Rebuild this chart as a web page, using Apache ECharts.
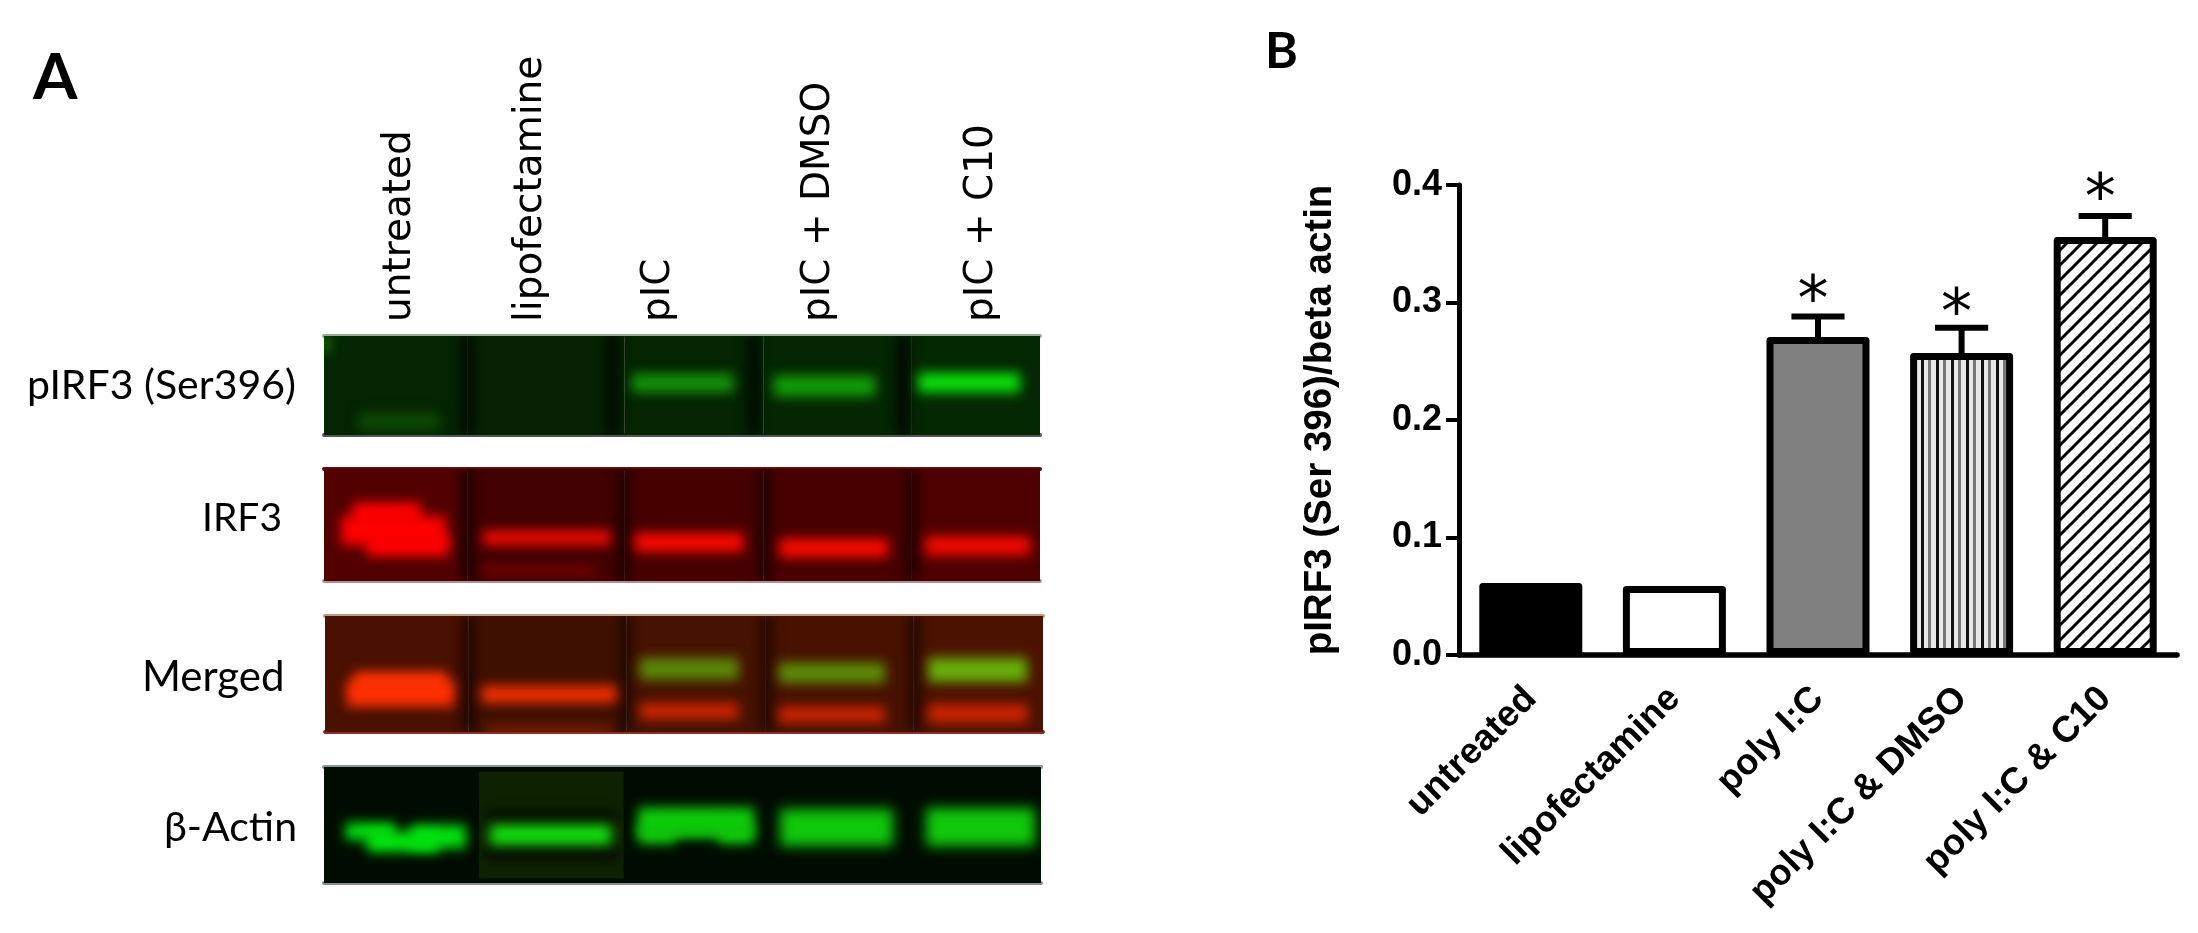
<!DOCTYPE html>
<html>
<head>
<meta charset="utf-8">
<script src="https://cdn.jsdelivr.net/npm/echarts@6/dist/echarts.min.js"></script>
<style>
html,body{margin:0;padding:0;background:#fff}
#main{width:2198px;height:933px;filter:blur(0.6px)}
</style>
</head>
<body>
<div id="main"></div>
<script>
// ---- Panel B data ----
const categories = ['untreated','lipofectamine','poly I:C','poly I:C & DMSO','poly I:C & C10'];
const meanValues = [0.0613,0.0587,0.2706,0.257,0.3557];
const errorTops  = [null,null,0.288,0.2786,0.3736];
const starValues = [null,null,0.3123,0.3013,0.3991];
const yTicks = {min:0,max:0.4,interval:0.1};
const yTitle = 'pIRF3 (Ser 396)/beta actin';

// ---- Panel A data: lanes are in lane units 0-5, migration in percent of strip height ----
// lane background: [laneStart, laneEnd, migrationStart, migrationEnd, redSignal, greenSignal]
const pIRF3Lanes = [[0,1,0,100,4,36],[1,2.1,0,100,6,34],[2.1,3.07,0,100,4,36],[3.07,4.1,0,100,4,38],[4.1,5,0,100,4,40]];
const irf3Lanes = [[0,1,0,100,82,0],[1,2.1,0,100,66,0],[2.1,3.07,0,100,70,0],[3.07,4.1,0,100,72,0],[4.1,5,0,100,78,0]];
const mergedLanes = [[0,1,0,100,74,16],[1,2.1,0,100,62,16],[2.1,3.07,0,100,70,18],[3.07,4.1,0,100,72,18],[4.1,5,0,100,76,18]];
const actinLanes = [[0,5,0,100,0,12],[1.08,2.09,4,96,14,34]];
// signal bands: [laneStart, laneEnd, migrationStart, migrationEnd, redSignal, greenSignal]
const pIRF3Bands = [
  [0,0.03,0,16,40,200],[0.24,0.81,77,96,12,72],[0.96,1.04,0,100,0,8],[1.97,2.05,0,100,0,10],[2.96,3.04,0,100,0,10],[4.0,4.08,0,100,0,6],
  [2.15,2.86,38,57,20,145],[3.14,3.85,40,61,18,155],[4.15,4.86,37,57,12,222]
];
const irf3Bands = [
  [0.96,1.03,0,100,20,0],[2.06,2.13,0,100,24,0],[3.04,3.11,0,100,24,0],[4.07,4.14,0,100,26,0],
  [0.2,0.68,30,50,255,0],[0.12,0.85,42,68,255,0],[0.3,0.87,58,78,255,0],
  [1.11,2.0,55,68,240,10],[1.11,1.9,86,95,120,0],
  [2.17,2.93,57,74,248,10],[3.18,3.94,62,79,248,10],[4.2,4.93,60,77,244,10]
];
const mergedBands = [
  [0.96,1.03,0,100,24,6],[2.06,2.13,0,100,28,8],[3.04,3.11,0,100,28,8],[4.07,4.14,0,100,28,8],
  [0.2,0.85,48,66,255,52],[0.15,0.9,56,78,255,48],[1.09,2.03,60,75,240,48],[1.12,2.0,94,103,125,30],
  [2.19,2.88,36,55,92,135],[2.19,2.88,75,89,205,36],
  [3.16,3.9,40,58,92,140],[3.16,3.9,78,92,205,36],
  [4.2,4.89,36,57,102,175],[4.2,4.89,76,92,205,36]
];
const actinBands = [
  [1.12,2.05,39,46,4,8],[1.12,2.05,71,79,4,8],
  [0.15,0.5,48,63,0,225],[0.3,0.8,56,73,0,235],[0.6,0.99,50,70,0,225],
  [1.16,2.0,50,67,18,222],
  [2.19,3.0,35,58,16,205],[2.19,2.45,50,66,16,205],[2.4,2.8,50,60,16,205],[2.75,3.0,50,66,16,205],
  [3.18,3.97,36,68,16,200],[4.2,4.96,35,68,16,200]
];
const stripLabels = ['pIRF3 (Ser396)','IRF3','Merged','\u03b2-Actin'];
const laneLabels = ['untreated','lipofectamine','pIC','pIC + DMSO','pIC + C10'];

// ---- Layout and style ----
const strips = [
  {lanes:pIRF3Lanes,bands:pIRF3Bands,left:324,right:1040,top:336,bottom:435,edgeTop:'#9aaa9a',edgeBottom:'#555'},
  {lanes:irf3Lanes,bands:irf3Bands,left:324,right:1040,top:469,bottom:581,edgeTop:'#5a1010',edgeBottom:'#b09090'},
  {lanes:mergedLanes,bands:mergedBands,left:325,right:1043,top:616,bottom:732,edgeTop:'#c09a88',edgeBottom:'#8a3020'},
  {lanes:actinLanes,bands:actinBands,left:324,right:1041,top:767,bottom:883,edgeTop:'#909890',edgeBottom:'#8c8c8c'}
];
function mk(w,h,draw){const c=document.createElement('canvas');c.width=w;c.height=h;draw(c.getContext('2d'));return c;}
const vertTile = mk(15,4,g=>{g.fillStyle='#e8e8e8';g.fillRect(0,0,15,4);g.fillStyle='#111';g.fillRect(1,0,3,4);g.fillStyle='#777';g.fillRect(8,0,3,4);});
const diagTile = mk(15,15,g=>{g.fillStyle='#fff';g.fillRect(0,0,15,15);g.strokeStyle='#000';g.lineWidth=3;
  [[-15,15,15,-15],[0,15,15,0],[0,30,30,0]].forEach(l=>{g.beginPath();g.moveTo(l[0],l[1]);g.lineTo(l[2],l[3]);g.stroke();});});
const barFills = ['#000','#fff','#808080',{image:vertTile,repeat:'repeat'},{image:diagTile,repeat:'repeat'}];

const OFF=3000;
const grids=[],xAxes=[],yAxes=[],series=[];
strips.forEach((s,i)=>{
  grids.push({left:s.left,width:s.right-s.left,top:s.top,height:s.bottom-s.top});
  const hidden={type:'value',min:0,max:5,gridIndex:i,axisLabel:{show:false},axisTick:{show:false},splitLine:{show:false}};
  xAxes.push({...hidden,position:'bottom',axisLine:{show:true,onZero:false,lineStyle:{color:s.edgeBottom,width:4}}});
  xAxes.push({...hidden,position:'top',axisLine:{show:true,onZero:false,lineStyle:{color:s.edgeTop,width:4}}});
  yAxes.push({type:'value',min:0,max:100,inverse:true,gridIndex:i,show:false});
  const clip=cs=>({type:'rect',shape:{x:cs.x,y:cs.y,width:cs.width,height:cs.height}});
  const rgb=(r,g)=>`rgb(${r},${g},${Math.round(g*0.06)})`;
  series.push({type:'custom',name:'lanes'+i,xAxisIndex:2*i,yAxisIndex:i,data:s.lanes,encode:{x:[0,1],y:[2,3]},silent:true,animation:false,z:1,
    renderItem(params,api){
      const a=api.coord([api.value(0),api.value(2)]),b=api.coord([api.value(1),api.value(3)]);
      return {type:'rect',shape:{x:a[0],y:a[1],width:b[0]-a[0],height:b[1]-a[1]},style:{fill:rgb(api.value(4),api.value(5))},clipPath:clip(params.coordSys)};
    }});
  // each band is painted as the Gaussian shadow of its rectangle only, so its edges are soft
  series.push({type:'custom',name:'bands'+i,xAxisIndex:2*i,yAxisIndex:i,data:s.bands,encode:{x:[0,1],y:[2,3]},silent:true,animation:false,z:2,
    renderItem(params,api){
      const a=api.coord([api.value(0),api.value(2)]),b=api.coord([api.value(1),api.value(3)]);
      const c=rgb(api.value(4),api.value(5));
      return {type:'rect',shape:{x:a[0]-OFF,y:a[1],width:b[0]-a[0],height:b[1]-a[1]},
        style:{fill:'#000',shadowBlur:12,shadowColor:c,shadowOffsetX:OFF},clipPath:clip(params.coordSys)};
    }});
});

// Panel B
const B=strips.length;
grids.push({left:1459,right:21,top:185,bottom:278});
xAxes.push({type:'category',gridIndex:B,data:categories,
  axisLine:{onZero:false,lineStyle:{color:'#000',width:5.5}},
  axisTick:{alignWithLabel:true,length:15,lineStyle:{color:'#000',width:5}},
  axisLabel:{rotate:45,interval:0,margin:38,fontFamily:'Liberation Sans',fontWeight:'bold',fontSize:36.5,color:'#000'}});
yAxes.push({type:'value',gridIndex:B,...yTicks,splitLine:{show:false},
  name:yTitle,nameLocation:'middle',nameRotate:90,nameGap:119,
  nameTextStyle:{fontFamily:'Liberation Sans',fontWeight:'bold',fontSize:38.5,color:'#000'},
  axisLine:{show:true,lineStyle:{color:'#000',width:5}},
  axisTick:{show:true,length:13,lineStyle:{color:'#000',width:4}},
  axisLabel:{margin:17,fontFamily:'Liberation Sans',fontWeight:'bold',fontSize:36,color:'#000',formatter:v=>v.toFixed(1)}});
series.push({type:'bar',xAxisIndex:2*B,yAxisIndex:B,barWidth:103,animation:false,z:3,
  data:meanValues.map((v,i)=>({value:v,itemStyle:{color:barFills[i],borderColor:'#000',borderWidth:7,borderJoin:'round'}}))});
series.push({type:'custom',xAxisIndex:2*B,yAxisIndex:B,animation:false,z:4,
  data:errorTops.map((t,i)=>t==null?null:[i,meanValues[i],t]).filter(Boolean),encode:{x:0,y:[1,2]},
  renderItem(params,api){
    const a=api.coord([api.value(0),api.value(1)]),b=api.coord([api.value(0),api.value(2)]);
    const half=api.size([1,0])[0]*0.185;
    const st={stroke:'#000',lineWidth:6};
    return {type:'group',children:[
      {type:'line',shape:{x1:a[0],y1:a[1],x2:b[0],y2:b[1]},style:st},
      {type:'line',shape:{x1:b[0]-half,y1:b[1],x2:b[0]+half,y2:b[1]},style:st}]};
  }});
series.push({type:'custom',xAxisIndex:2*B,yAxisIndex:B,animation:false,z:4,
  data:starValues.map((t,i)=>t==null?null:[i,t]).filter(Boolean),encode:{x:0,y:1},
  renderItem(params,api){
    const p=api.coord([api.value(0),api.value(1)]);
    return {type:'text',x:p[0]-5,y:p[1]+16,style:{text:'*',fontFamily:'DejaVu Sans',fontSize:62,fill:'#000',align:'center',verticalAlign:'middle'}};
  }});

// Text annotations of panel A
const laneLabelBaselines=[408,539,667,827,990];
const graphic=[
  {type:'text',x:33,y:46,style:{text:'A',fontFamily:'Lato',fontWeight:'bold',fontSize:64,fill:'#000'}},
  {type:'text',x:1265,y:27,style:{text:'B',fontFamily:'Lato',fontWeight:'bold',fontSize:50,fill:'#000'}}
];
laneLabels.forEach((t,i)=>graphic.push({type:'text',x:laneLabelBaselines[i]+11,y:322,rotation:Math.PI/2,
  style:{text:t,fontFamily:'DejaVu Sans',fontSize:39,fill:'#000',align:'left',verticalAlign:'bottom'}}));
[[27,365,41],[202,499,39],[142,656,42],[164,807,41]].forEach((p,i)=>graphic.push({type:'text',x:p[0],y:p[1],
  style:{text:stripLabels[i],fontFamily:'Lato',fontSize:p[2],fill:'#000'}}));

const chart=echarts.init(document.getElementById('main'),null,{renderer:'canvas'});
chart.setOption({backgroundColor:'#fff',animation:false,grid:grids,xAxis:xAxes,yAxis:yAxes,series,graphic});
</script>
</body>
</html>
